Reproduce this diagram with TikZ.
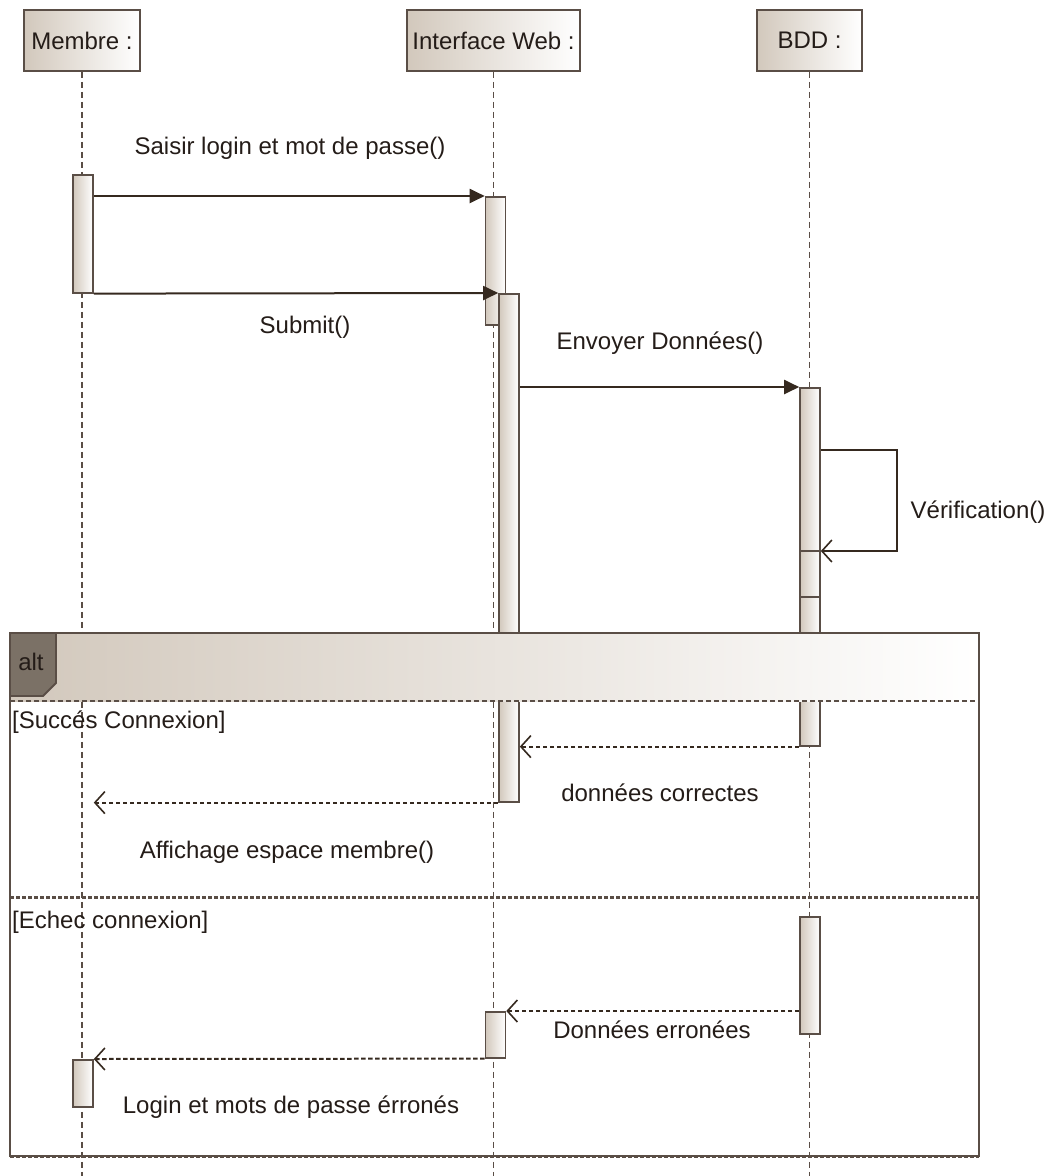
\documentclass[tikz,border=0pt]{standalone}
\usepackage{fontspec}
\setmainfont{Liberation Sans}
\usetikzlibrary{positioning,calc,arrows.meta}
\definecolor{umlline}{HTML}{5A4E46}
\definecolor{umltan}{HTML}{D2C8BC}
\definecolor{umltab}{HTML}{7B7166}
\definecolor{umlmsg}{HTML}{35291F}
\definecolor{umltext}{HTML}{241C18}
\tikzset{
  head/.style={draw=umlline, line width=1.8pt, left color=umltan, right color=white,
    minimum height=61, inner sep=2pt, font=\fontsize{24}{28}\selectfont, text=umltext},
  bar/.style={draw=umlline, line width=1.6pt, left color=umltan, right color=white,
    minimum width=20, inner sep=0pt, anchor=north},
  lifeline/.style={umlline, line width=1.4pt, dash pattern=on 6pt off 4pt},
  call/.style={umlmsg, line width=2pt, -{Triangle[length=15pt,width=14pt]}},
  selfcall/.style={umlmsg, line width=2pt, -{Straight Barb[length=10pt,width=22pt,line width=1.6pt]}},
  reply/.style={selfcall, dash pattern=on 4.5pt off 2.5pt},
  lbl/.style={font=\fontsize{24}{28}\selectfont, text=umltext, inner sep=0pt},
  sep/.style={umlline, line width=3pt, dash pattern=on 4pt off 2pt}
}
\begin{document}
\begin{tikzpicture}[x=1pt,y=-1pt]
  \useasboundingbox (0,0) rectangle (1047,1176);
  % heads and lifelines
  \node[head, minimum width=116] (membre) at (82,40.5) {Membre :};
  \node[head, minimum width=173] (web) at (493.5,40.5) {Interface Web :};
  \node[head, minimum width=105] (bdd) at (809.5,40.5) {BDD :};
  \foreach \h in {membre,web,bdd}
    \draw[lifeline] (\h.south) -- (\h.south |- 0,1176);

  % activations
  \node[bar, minimum height=118] (mA) at (83,174) {};
  \node[bar, minimum height=128] (wA) at (495.5,196) {};
  \node[bar, minimum height=508] (wB) at (509,293) {};
  \node[bar, minimum height=358] (bA) at (810,387) {};
  \node[bar, minimum height=117] (bB) at (810,916) {};
  \node[bar, minimum height=46] (wC) at (495.5,1011) {};
  \node[bar, minimum height=47] (mB) at (83,1059) {};
  \draw[umlline, line width=1.6pt] (bA.west |- 0,551) -- (bA.east |- 0,551)
    (bA.west |- 0,597) -- (bA.east |- 0,597);

  % messages
  \draw[call] (mA.east |- wA.north) -- (wA.north west);
  \node[lbl] (saisir) at (290,148) {Saisir login et mot de passe()};
  \draw[call] (mA.south east) -- (wB.north west);
  \node[lbl] (submit) at (305,327) {Submit()};
  \draw[call] (wB.east |- bA.north) -- (bA.north west);
  \node[lbl] (envoyer) at (660,343) {Envoyer Données()};
  \draw[selfcall] (bA.east |- 0,450) -| (897,551) -- (bA.east |- 0,551);
  \node[lbl] (verif) at (978,512) {Vérification()};

  % alt frame
  \shade[left color=umltan, right color=white] (10,633) rectangle (979,701);
  \draw[umlline, line width=1.8pt, fill=umltab] (10,633) -- (56,633) -- (56,683)
    -- (43,696) -- (10,696) -- cycle;
  \node[lbl] (alt) at (31,662) {alt};
  \draw[umlline, line width=1.8pt] (10,633) rectangle (979,1156);
  \draw[umlline, line width=1.5pt, dash pattern=on 5pt off 3pt] (10,701) -- (979,701);
  \draw[sep] (10,897) -- (979,897);
  \draw[sep] (10,1156) -- (979,1156);
  \node[lbl, anchor=west] (succes) at (12,722) {[Succés Connexion]};
  \node[lbl, anchor=west] (echec) at (12,922) {[Echec connexion]};

  \draw[reply] (bA.south west) -- (wB.east |- bA.south west);
  \node[lbl] (correct) at (660,793) {données correctes};
  \draw[reply] (wB.south west) -- (mA.east |- wB.south west);
  \node[lbl] (affichage) at (287,852) {Affichage espace membre()};
  \draw[reply] (bB.west |- wC.north) -- (wC.north east);
  \node[lbl] (erronees) at (652,1030) {Données erronées};
  \draw[reply] (wC.south west) -- (mB.north east);
  \node[lbl] (login) at (291,1107) {Login et mots de passe érronés};
\end{tikzpicture}
\end{document}
